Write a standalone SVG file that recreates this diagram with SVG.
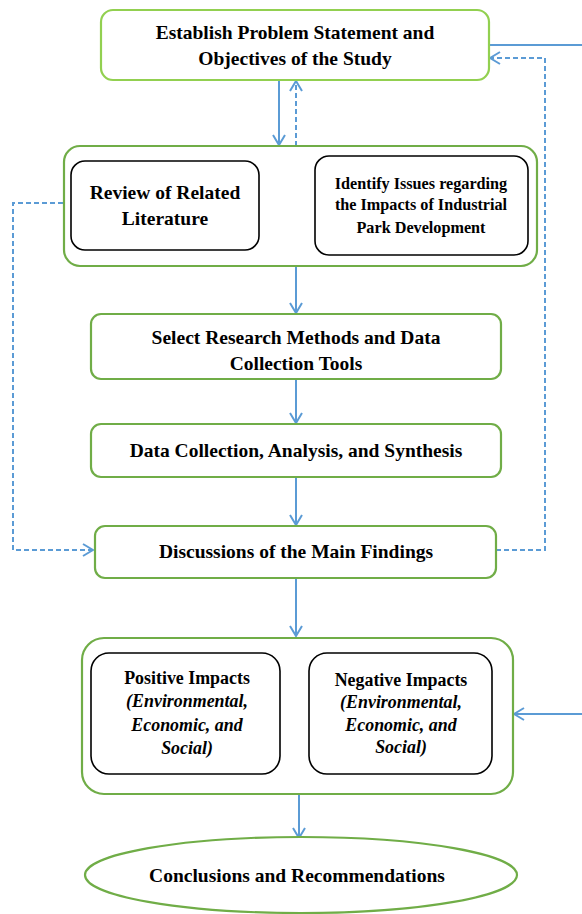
<svg xmlns="http://www.w3.org/2000/svg" width="582" height="914" viewBox="0 0 582 914">
  <style>
    .box-lime { fill: #ffffff; stroke: #92D050; stroke-width: 2.2; }
    .box-green { fill: #ffffff; stroke: #70AD47; stroke-width: 2.2; }
    .box-black { fill: #ffffff; stroke: #000000; stroke-width: 1.6; }
    .label { font-family: "Liberation Serif", "Times New Roman", serif; font-weight: bold; fill: #000000; text-anchor: middle; }
    .big { font-size: 19.5px; }
    .mid { font-size: 17.9px; }
    .small { font-size: 16.2px; }
    .em { font-style: italic; }
    .flow { fill: none; stroke: #5B9BD5; stroke-width: 2; }
    .dash { fill: none; stroke: #5B9BD5; stroke-width: 2; stroke-dasharray: 5 3; }
  </style>
  <defs>
    <marker id="chev" viewBox="0 0 12 14" refX="11" refY="7" markerWidth="12" markerHeight="14" markerUnits="userSpaceOnUse" orient="auto">
      <path d="M1,1 L11,7 L1,13" fill="none" stroke="#5B9BD5" stroke-width="2"/>
    </marker>
  </defs>

  <rect width="582" height="914" fill="#ffffff"/>

  <!-- connectors -->
  <g id="connectors">
    <!-- main downward flow -->
    <line class="flow" x1="279" y1="80" x2="279" y2="145" marker-end="url(#chev)"/>
    <line class="dash" x1="296" y1="146" x2="296" y2="81" marker-end="url(#chev)"/>
    <line class="flow" x1="259" y1="202" x2="314" y2="203" marker-end="url(#chev)"/>
    <line class="flow" x1="296" y1="266" x2="296" y2="313" marker-end="url(#chev)"/>
    <line class="flow" x1="296" y1="379" x2="296" y2="423" marker-end="url(#chev)"/>
    <line class="flow" x1="296" y1="477" x2="296" y2="525" marker-end="url(#chev)"/>
    <line class="flow" x1="296" y1="578" x2="296" y2="636" marker-end="url(#chev)"/>
    <line class="flow" x1="299" y1="792" x2="299" y2="838" marker-end="url(#chev)"/>
    <!-- side feedback loops -->
    <path class="dash" d="M63,203 H13 V550 H93" marker-end="url(#chev)"/>
    <path class="dash" d="M496,550 H545 V58 H490" marker-end="url(#chev)"/>
    <!-- outer loop running past the right edge -->
    <line class="flow" x1="489" y1="45" x2="582" y2="45"/>
    <line class="flow" x1="582" y1="714" x2="514" y2="714" marker-end="url(#chev)"/>
  </g>

  <g id="problem-statement">
    <rect class="box-lime" x="101" y="10" width="388" height="70" rx="12"/>
    <text class="label big" x="295" y="39">Establish Problem Statement and</text>
    <text class="label big" x="295" y="65">Objectives of the Study</text>
  </g>

  <g id="literature-group">
    <rect class="box-green" x="64" y="146" width="473" height="120" rx="16"/>
  </g>

  <g id="review-literature">
    <rect class="box-black" x="71" y="161" width="188" height="89" rx="14"/>
    <text class="label big" x="165" y="199">Review of Related</text>
    <text class="label big" x="165" y="225">Literature</text>
  </g>

  <g id="identify-issues">
    <rect class="box-black" x="315" y="156" width="213" height="99" rx="14"/>
    <text class="label small" x="421" y="189">Identify Issues regarding</text>
    <text class="label small" x="421" y="210">the Impacts of Industrial</text>
    <text class="label small" x="421" y="233">Park Development</text>
  </g>

  <g id="research-methods">
    <rect class="box-green" x="91" y="314" width="410" height="65" rx="10"/>
    <text class="label big" x="296" y="344">Select Research Methods and Data</text>
    <text class="label big" x="296" y="370">Collection Tools</text>
  </g>

  <g id="data-collection">
    <rect class="box-green" x="91" y="424" width="410" height="53" rx="10"/>
    <text class="label big" x="296" y="457">Data Collection, Analysis, and Synthesis</text>
  </g>

  <g id="discussions">
    <rect class="box-green" x="95" y="526" width="401" height="52" rx="10"/>
    <text class="label big" x="296" y="558">Discussions of the Main Findings</text>
  </g>

  <g id="impacts-group">
    <rect class="box-green" x="82" y="638" width="431" height="156" rx="22"/>
  </g>

  <g id="positive-impacts">
    <rect class="box-black" x="91" y="653" width="189" height="121" rx="18"/>
    <text class="label mid" x="187" y="684">Positive Impacts</text>
    <text class="label mid em" x="187" y="707">(Environmental,</text>
    <text class="label mid em" x="187" y="731">Economic, and</text>
    <text class="label mid em" x="187" y="754">Social)</text>
  </g>

  <g id="negative-impacts">
    <rect class="box-black" x="309" y="653" width="183" height="121" rx="18"/>
    <text class="label mid" x="401" y="686">Negative Impacts</text>
    <text class="label mid em" x="401" y="708">(Environmental,</text>
    <text class="label mid em" x="401" y="731">Economic, and</text>
    <text class="label mid em" x="401" y="753">Social)</text>
  </g>

  <g id="conclusions">
    <ellipse class="box-green" cx="301" cy="875" rx="216" ry="38"/>
    <text class="label big" x="297" y="882">Conclusions and Recommendations</text>
  </g>
</svg>
